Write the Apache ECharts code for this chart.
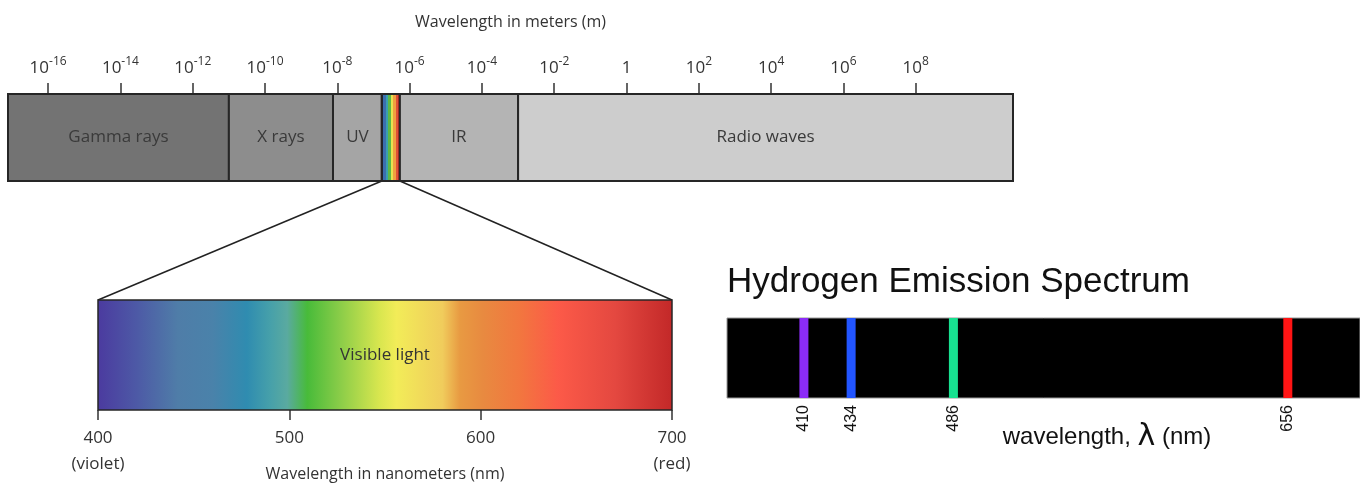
<!DOCTYPE html>
<html>
<head>
<meta charset="utf-8">
<title>EM spectrum</title>
<script src="https://cdn.jsdelivr.net/npm/echarts@6/dist/echarts.min.js"></script>
<style>
  html, body { margin: 0; padding: 0; background: #fff; }
  #main { width: 1360px; height: 484px; }
</style>
</head>
<body>
<div id="main"></div>
<script>
// wavelength in meters, as powers of ten
var emTicks = [-16, -14, -12, -10, -8, -6, -4, -2, 0, 2, 4, 6, 8]
var emMin = -17.11
var emMax = 10.69
var bandNames = ['Gamma rays', 'X rays', 'UV', '', 'IR', 'Radio waves']
var bandStart = [-17.11, -11.0, -8.12, -6.77, -6.27, -3.0]
var bandEnd = [-11.0, -8.12, -6.77, -6.27, -3.0, 10.69]
var visibleIndex = 3

// visible light, nm
var visRange = [400, 700]
var visTicks = [400, 500, 600, 700]
var visTickNotes = ['(violet)', '', '', '(red)']

// hydrogen emission lines, nm
var hLines = [410, 434, 486, 656]
var hMin = 370.9
var hMax = 692.7

// styles
var bandColors = ['#737373', '#8d8d8d', '#a5a5a5', null, '#b4b4b4', '#cdcdcd']
var stripeColors = ['#1c2c55', '#3b6fb0', '#3aa0b0', '#5cb848', '#e8e050', '#f0a040', '#e05035', '#c02a2a']
var rainbowStops = [
  [0, '#4b3a9f'], [0.07, '#4d5aa6'], [0.14, '#4f7da8'], [0.2, '#4a82aa'],
  [0.26, '#2f8cb0'], [0.3, '#46a0aa'], [0.33, '#5aaaa0'], [0.365, '#48bb3a'],
  [0.42, '#88cc48'], [0.49, '#d8e64f'], [0.52, '#f2ec58'], [0.6, '#f0cc5c'],
  [0.63, '#e89a42'], [0.67, '#e88a40'], [0.735, '#f2763f'], [0.8, '#fc5a48'],
  [0.9, '#e44840'], [1, '#c22828']
]
var hColors = ['#8c2cf8', '#2255ff', '#18e090', '#ff1414']
var ink = '#333'
var uiFont = 'Open Sans'
var hFont = 'Liberation Sans'

var stripeGradient = (function () {
  var stops = []
  var n = stripeColors.length
  stripeColors.forEach(function (c, i) {
    stops.push({ offset: i / n, color: c })
    stops.push({ offset: (i + 1) / n, color: c })
  })
  return new echarts.graphic.LinearGradient(0, 0, 1, 0, stops)
})()
var rainbow = new echarts.graphic.LinearGradient(0, 0, 1, 0, rainbowStops.map(function (s) {
  return { offset: s[0], color: s[1] }
}))

function rectBetween (api, x0, x1) {
  var p0 = api.coord([x0, 1])
  var p1 = api.coord([x1, 0])
  return { x: p0[0], y: p0[1], width: p1[0] - p0[0], height: p1[1] - p0[1] }
}

function bandItem (params, api) {
  var i = params.dataIndex
  return {
    type: 'rect',
    shape: rectBetween(api, api.value(0), api.value(1)),
    style: { fill: i === visibleIndex ? stripeGradient : bandColors[i], stroke: '#262626', lineWidth: 2 },
    textContent: { style: { text: bandNames[i], fill: '#3a3a3a', fontSize: 17, fontFamily: uiFont } },
    textConfig: { position: 'inside' }
  }
}

function visibleItem (params, api) {
  return {
    type: 'rect',
    shape: rectBetween(api, api.value(0), api.value(1)),
    style: { fill: rainbow, stroke: '#262626', lineWidth: 1.5 },
    textContent: { style: { text: 'Visible light', fill: '#333', fontSize: 17, fontFamily: uiFont } },
    textConfig: { position: 'inside' }
  }
}

function lineItem (params, api) {
  var top = api.coord([api.value(0), 1])
  var bottom = api.coord([api.value(0), 0])
  return {
    type: 'rect',
    shape: { x: top[0] - 4.5, y: top[1], width: 9, height: bottom[1] - top[1] },
    style: { fill: hColors[params.dataIndex] }
  }
}

var hiddenY = function (i) {
  return { gridIndex: i, type: 'value', min: 0, max: 1, show: false }
}

var chart = echarts.init(document.getElementById('main'))
chart.setOption({
  animation: false,
  grid: [
    { left: 8, top: 94, width: 1005, height: 87, outerBoundsMode: 'none' },
    { left: 98, top: 300, width: 574, height: 110, outerBoundsMode: 'none' },
    { left: 727, top: 318, width: 633, height: 80, outerBoundsMode: 'none', show: true, backgroundColor: '#000', borderColor: '#999', borderWidth: 1 }
  ],
  xAxis: [
    {
      gridIndex: 0,
      type: 'value',
      position: 'top',
      min: emMin,
      max: emMax,
      name: 'Wavelength in meters (m)',
      nameLocation: 'middle',
      nameGap: 64,
      nameMoveOverlap: false,
      nameTextStyle: { fontSize: 16, color: ink, fontFamily: uiFont },
      axisLine: { show: false, onZero: false },
      splitLine: { show: false },
      axisTick: { show: true, customValues: emTicks, length: 11, lineStyle: { color: ink, width: 1.5 } },
      axisLabel: {
        customValues: emTicks,
        margin: 14,
        fontSize: 17,
        lineHeight: 24,
        color: ink,
        fontFamily: uiFont,
        formatter: function (v) {
          return v === 0 ? '1' : '10{s|' + v + '}'
        },
        rich: { s: { fontSize: 12, lineHeight: 12, verticalAlign: 'top', color: ink, fontFamily: uiFont } }
      }
    },
    {
      gridIndex: 1,
      type: 'value',
      min: visRange[0],
      max: visRange[1],
      interval: 100,
      name: 'Wavelength in nanometers (nm)',
      nameLocation: 'middle',
      nameGap: 56,
      nameMoveOverlap: false,
      nameTextStyle: { fontSize: 16, color: ink, fontFamily: uiFont },
      axisLine: { show: false, onZero: false },
      splitLine: { show: false },
      axisTick: { show: true, length: 10, lineStyle: { color: ink, width: 1.5 } },
      axisLabel: {
        margin: 15,
        fontSize: 17,
        lineHeight: 26,
        color: ink,
        fontFamily: uiFont,
        formatter: function (v) {
          var note = visTickNotes[visTicks.indexOf(v)]
          return note ? v + '\n' + note : String(v)
        }
      }
    },
    {
      gridIndex: 2,
      type: 'value',
      min: hMin,
      max: hMax,
      axisLine: { show: false, onZero: false },
      axisTick: { show: false },
      splitLine: { show: false },
      axisLabel: {
        customValues: hLines,
        rotate: 90,
        margin: 7,
        fontSize: 16,
        color: '#111',
        fontFamily: hFont
      }
    }
  ],
  yAxis: [hiddenY(0), hiddenY(1), hiddenY(2)],
  series: [
    {
      type: 'custom',
      xAxisIndex: 0,
      yAxisIndex: 0,
      renderItem: bandItem,
      encode: { x: [0, 1] },
      data: bandStart.map(function (s, i) { return [s, bandEnd[i]] })
    },
    {
      type: 'custom',
      xAxisIndex: 1,
      yAxisIndex: 1,
      renderItem: visibleItem,
      encode: { x: [0, 1] },
      data: [visRange]
    },
    {
      type: 'custom',
      xAxisIndex: 2,
      yAxisIndex: 2,
      renderItem: lineItem,
      encode: { x: 0 },
      data: hLines.map(function (v) { return [v] })
    }
  ]
})

// zoom lines from the visible strip down to the visible light bar
var a = chart.convertToPixel({ gridIndex: 0 }, [bandStart[visibleIndex], 0])
var b = chart.convertToPixel({ gridIndex: 0 }, [bandEnd[visibleIndex], 0])
var c = chart.convertToPixel({ gridIndex: 1 }, [visRange[0], 1])
var d = chart.convertToPixel({ gridIndex: 1 }, [visRange[1], 1])
var h = chart.convertToPixel({ gridIndex: 2 }, [hMin, 1])

chart.setOption({
  graphic: [
    { type: 'line', shape: { x1: a[0], y1: a[1], x2: c[0], y2: c[1] }, style: { stroke: '#222', lineWidth: 1.5 } },
    { type: 'line', shape: { x1: b[0], y1: b[1], x2: d[0], y2: d[1] }, style: { stroke: '#222', lineWidth: 1.5 } },
    {
      type: 'text',
      x: h[0],
      y: h[1] - 36,
      style: { text: 'Hydrogen Emission Spectrum', fontSize: 35, fontFamily: hFont, fill: '#111', verticalAlign: 'middle' }
    },
    {
      type: 'text',
      x: 1107,
      y: 437,
      style: {
        text: '{a|wavelength, }{b|λ}{a| (nm)}',
        align: 'center',
        verticalAlign: 'middle',
        rich: {
          a: { fontSize: 24, fontFamily: hFont, fill: '#111' },
          b: { fontSize: 30, fontFamily: 'DejaVu Sans', fill: '#111' }
        }
      }
    }
  ]
})
</script>
</body>
</html>
